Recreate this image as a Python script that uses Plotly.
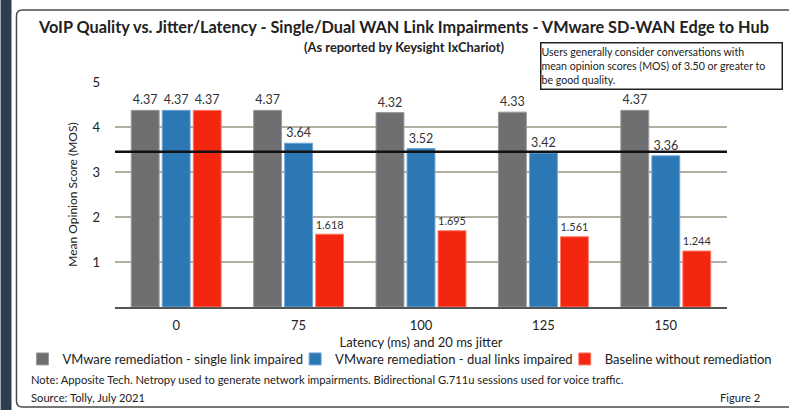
import plotly.graph_objects as go

categories = ["0", "75", "100", "125", "150"]
single_link = [4.37, 4.37, 4.32, 4.33, 4.37]
dual_links = [4.37, 3.64, 3.52, 3.42, 3.36]
baseline = [4.37, 1.618, 1.695, 1.561, 1.244]
series_names = ["VMware remediation - single link impaired",
                "VMware remediation - dual links impaired",
                "Baseline without remediation"]
label_single = ["4.37", "4.37", "4.32", "4.33", "4.37"]
label_dual = ["4.37", "3.64", "3.52", "3.42", "3.36"]
label_base = ["4.37", "1.618", "1.695", "1.561", "1.244"]
threshold = 3.45
y_ticks = [1, 2, 3, 4, 5]

W, H = 789, 410
L, R, T, B = 115, 59, 82, 103
PW, PH = W - L - R, H - T - B

def px(x):
    return (x - L) / PW

def py(y):
    return (H - B - y) / PH

FONT = "Lato"
colors = ["#6f6f71", "#2b78b5", "#f3270f"]
edges = ["#9a9a9c", "#6fa5d6", "#ff7a66"]
legend_ids = ["legend", "legend2", "legend3"]
legend_x = [22, 296, 567]

fig = go.Figure()
for name, vals, labs, c, e, lg in zip(series_names, [single_link, dual_links, baseline],
                                      [label_single, label_dual, label_base], colors, edges, legend_ids):
    fig.add_trace(go.Bar(
        x=categories, y=vals, name=name, text=labs, textposition="outside",
        textfont=dict(size=12.5, color="#333333", family=FONT),
        marker=dict(color=c, line=dict(color=e, width=1)),
        cliponaxis=False, legend=lg,
    ))

shapes = [
    dict(type="rect", xref="paper", yref="paper", x0=px(0), x1=px(11), y0=py(410), y1=py(0),
         fillcolor="#2d3e50", line=dict(width=0), layer="below"),
    dict(type="path", xref="paper", yref="paper",
         path=(f"M {px(800)},{py(10)} L {px(22)},{py(10)} Q {px(16)},{py(10)} {px(16)},{py(16)} "
               f"L {px(16)},{py(401)} Q {px(16)},{py(407)} {px(22)},{py(407)} L {px(800)},{py(407)}"),
         line=dict(color="#4a4a4a", width=1.5), layer="below"),
    dict(type="line", xref="paper", yref="y", x0=0, x1=1, y0=threshold, y1=threshold,
         line=dict(color="#111111", width=2.5), layer="above"),
]

annotations = [
    dict(text="<b>VoIP Quality vs. Jitter/Latency - Single/Dual WAN Link Impairments - VMware SD-WAN Edge to Hub</b>",
         x=px(405), y=py(27), xref="paper", yref="paper", showarrow=False,
         font=dict(size=16.3, color="#222222", family=FONT), xanchor="center", yanchor="middle"),
    dict(text="<b>(As reported by Keysight IxChariot)</b>",
         x=px(406), y=py(47), xref="paper", yref="paper", showarrow=False,
         font=dict(size=12.9, color="#222222", family=FONT), xanchor="center", yanchor="middle"),
    dict(text="Users generally consider conversations with<br>mean opinion scores (MOS) of 3.50 or greater to<br>be good quality.",
         x=px(542), y=py(42), xref="paper", yref="paper", showarrow=False,
         font=dict(size=10.6, color="#222222", family=FONT), xanchor="left", yanchor="top",
         align="left", bordercolor="#222222", borderwidth=1.5, borderpad=0, bgcolor="white",
         width=240, height=45, valign="middle"),
    dict(text="Note: Apposite Tech. Netropy used to generate network impairments. Bidirectional G.711u sessions used for voice traffic.",
         x=px(29), y=py(379), xref="paper", yref="paper", showarrow=False,
         font=dict(size=11.2, color="#222222", family=FONT), xanchor="left", yanchor="middle"),
    dict(text="Source: Tolly, July 2021",
         x=px(29), y=py(397), xref="paper", yref="paper", showarrow=False,
         font=dict(size=11.2, color="#222222", family=FONT), xanchor="left", yanchor="middle"),
    dict(text="Figure 2",
         x=px(765), y=py(397), xref="paper", yref="paper", showarrow=False,
         font=dict(size=11.2, color="#222222", family=FONT), xanchor="right", yanchor="middle"),
]

legend_common = dict(orientation="h", yanchor="middle", y=py(359),
                     font=dict(size=13, color="#222222", family=FONT),
                     bgcolor="rgba(0,0,0,0)", xanchor="left",
                     itemclick=False, itemdoubleclick=False)

fig.update_layout(
    width=W, height=H,
    margin=dict(l=L, r=R, t=T, b=B, pad=0),
    paper_bgcolor="white", plot_bgcolor="white",
    barmode="group", bargap=0.24, bargroupgap=0.1,
    font=dict(family=FONT, color="#222222"),
    shapes=shapes, annotations=annotations,
    showlegend=True,
    legend=dict(x=px(legend_x[0]), **legend_common),
    legend2=dict(x=px(legend_x[1]), **legend_common),
    legend3=dict(x=px(legend_x[2]), **legend_common),
    xaxis=dict(type="category", showgrid=False, showline=True, linecolor="#555555", linewidth=1.5,
               ticks="", tickfont=dict(size=13, color="#222222"), ticklabelstandoff=6,
               title=dict(text="Latency (ms) and 20 ms jitter", font=dict(size=13, color="#222222"),
                          standoff=6)),
    yaxis=dict(range=[0, 5], tickvals=y_ticks, showgrid=True, gridcolor="#b3afa3", gridwidth=2,
               zeroline=False, showline=False, ticks="", tickfont=dict(size=13, color="#222222"),
               ticklabelstandoff=14,
               title=dict(text="Mean Opinion Score (MOS)", font=dict(size=12, color="#222222"),
                          standoff=12)),
)

fig.write_html("out.html", config={"displayModeBar": False},
               post_script="document.body.style.margin='0px';document.body.style.overflow='hidden';")
